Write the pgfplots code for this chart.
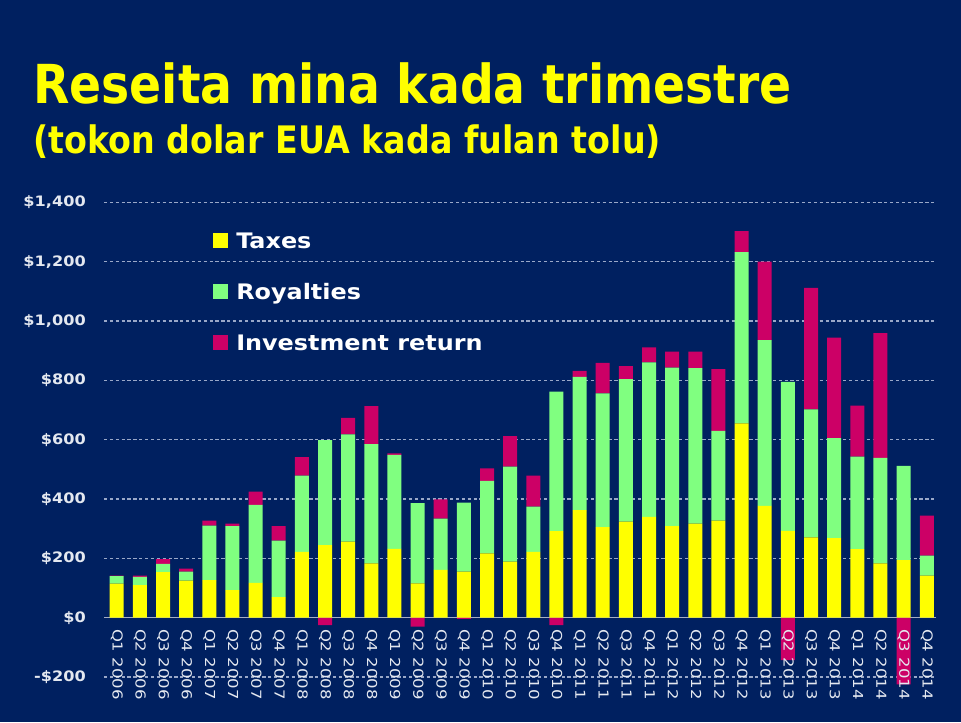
\documentclass[border=0pt]{standalone}
\usepackage{fontspec}
\setmainfont{DejaVu Sans}
\newfontfamily\titlefont[FakeStretch=0.88]{DejaVu Sans}
\newfontfamily\boldwide[FakeStretch=1.12]{DejaVu Sans}
\newfontfamily\xlabfont[FakeStretch=1.2]{DejaVu Sans}
\usepackage{pgfplots}
\pgfplotsset{compat=1.18}
\usepackage{pgfplotstable}

\definecolor{bgblue}{HTML}{002060}
\definecolor{ctax}{HTML}{FFFF00}
\definecolor{croy}{HTML}{80FF80}
\definecolor{cinv}{HTML}{CC0066}
\definecolor{labcol}{HTML}{E4E8F0}
\definecolor{gridcol}{HTML}{9AA8C8}
\definecolor{zerocol}{HTML}{A6AEC6}

\pgfplotsset{
  sqlegend/.style={legend image code/.code={\fill[##1] (0pt,-5.625pt) rectangle (11.25pt,5.625pt);}},
  frame/.style={
    at={(78pt,-507.75pt)}, anchor=south west,
    scale only axis,
    width=624pt, height=355.95pt,
    xmin=-0.55, xmax=35.4,
    ymin=-200, ymax=1400,
    clip=false,
    axis line style={draw=none},
    tick style={draw=none},
  },
}

% investment return below zero is stacked on its own, downward from 0
\pgfplotstableread{
x  tax  roy  inv
0  115   25    2
1  110   28    4
2  154   27   16
3  125   30   10
4  127  183   17
5   93  216    8
6  117  263   45
7   69  191   49
8  222  257   62
9  245  354  -25
10 256  362   56
11 183  402  128
12 232  317    5
13 116  270  -30
14 161  173   65
15 155  233   -4
16 217  244   42
17 189  320  103
18 222  152  105
19 292  470  -25
20 363  449   20
21 305  451  103
22 324  480   44
23 340  521   50
24 309  534   54
25 317  524   56
26 327  303  208
27 655  577   71
28 377  559  264
29 293  502 -143
30 271  431  410
31 268  337  339
32 231  312  172
33 183  356  420
34 194  318 -225
35 142   67  135
}\revdata

\begin{document}
\begin{tikzpicture}
\fill[bgblue] (0,0) rectangle (720.75pt,-541.5pt);
\node[anchor=base west, inner sep=0pt, text=ctax,
  font=\titlefont\bfseries\fontsize{40.3}{48}\selectfont]
  at (24.75pt,-77.25pt) {Reseita mina kada trimestre};
\node[anchor=base west, inner sep=0pt, text=ctax,
  font=\titlefont\bfseries\fontsize{28.4}{32}\selectfont]
  at (24.75pt,-114.75pt) {(tokon dolar EUA kada fulan tolu)};

\begin{axis}[
  frame,
  ybar stacked,
  bar width=10.5pt,
  ymajorgrids=true,
  major grid style={gridcol, line width=0.9pt, dash pattern=on 2.4pt off 2pt},
  extra y ticks={0},
  extra y tick labels={},
  extra y tick style={ymajorgrids=true, major grid style={zerocol, solid, line width=1pt}},
  ytick={-200,0,200,400,600,800,1000,1200,1400},
  yticklabels={{-\$200},{\$0},{\$200},{\$400},{\$600},{\$800},{\$1,000},{\$1,200},{\$1,400}},
  yticklabel style={anchor=east, inner sep=0pt, xshift=-13.5pt, text=labcol,
    font=\boldwide\bfseries\fontsize{10.8}{12}\selectfont},
  xtick=\empty,
  legend style={at={(0.131,0.9433)}, anchor=north west, draw=none, fill=none,
    text=white, inner sep=0pt, row sep=21.5pt,
    font=\boldwide\bfseries\fontsize{16}{18}\selectfont,
    nodes={inner sep=0pt, text height=14pt, text depth=2.75pt},
    /tikz/every odd column/.append style={column sep=6pt}},
  legend cell align=left,
]
\addplot[fill=ctax, draw=none, sqlegend] table[x=x, y=tax]{\revdata};
\addplot[fill=croy, draw=none, sqlegend] table[x=x, y=roy]{\revdata};
\addplot[fill=cinv, draw=none, sqlegend] table[x=x, y=inv]{\revdata};
\legend{Taxes, Royalties, Investment return}
\end{axis}

% quarter labels drawn over the bars
\begin{axis}[
  frame,
  ytick=\empty,
  xtick={0,...,35},
  xticklabels={Q1 2006,Q2 2006,Q3 2006,Q4 2006,Q1 2007,Q2 2007,Q3 2007,Q4 2007,
    Q1 2008,Q2 2008,Q3 2008,Q4 2008,Q1 2009,Q2 2009,Q3 2009,Q4 2009,
    Q1 2010,Q2 2010,Q3 2010,Q4 2010,Q1 2011,Q2 2011,Q3 2011,Q4 2011,
    Q1 2012,Q2 2012,Q3 2012,Q4 2012,Q1 2013,Q2 2013,Q3 2013,Q4 2013,
    Q1 2014,Q2 2014,Q3 2014,Q4 2014},
  xticklabel shift=-36.2pt,
  xticklabel style={rotate=-90, anchor=west, inner sep=0pt, text=labcol,
    font=\xlabfont\fontsize{10.3}{12}\selectfont},
]
\end{axis}
\end{tikzpicture}
\end{document}
